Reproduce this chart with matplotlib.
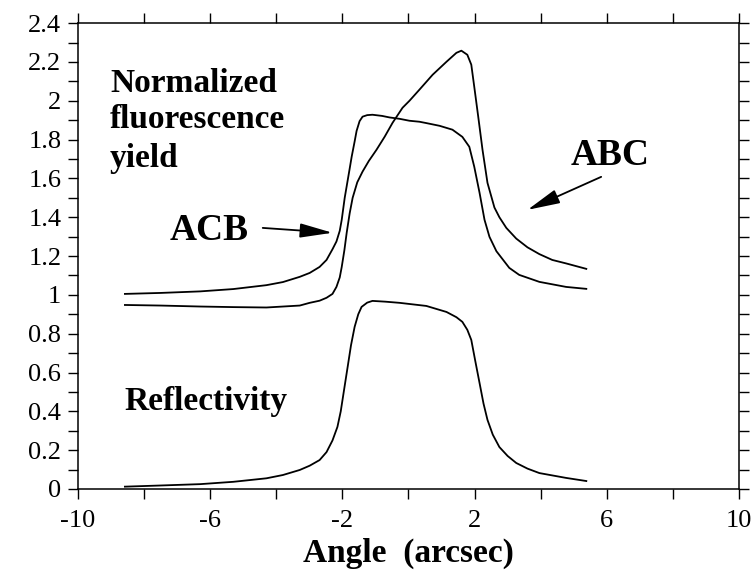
import matplotlib
matplotlib.use('Agg')
from matplotlib import pyplot as plt
from matplotlib.ticker import FixedLocator, MultipleLocator

plt.rcParams['font.family'] = ['Liberation Serif', 'DejaVu Serif']
plt.rcParams['axes.unicode_minus'] = False

# values (angle in arcsec)
refl_x = [-8.58, -7.5, -6.3, -5.3, -4.3, -3.8, -3.29, -2.99, -2.69, -2.48, -2.30,
          -2.15, -2.05, -1.95, -1.84, -1.74, -1.63, -1.52, -1.42, -1.25, -1.09,
          -0.7, -0.27, 0.54, 1.15, 1.45, 1.63, 1.78, 1.90, 2.02, 2.15, 2.27, 2.39,
          2.55, 2.75, 3.0, 3.26, 3.6, 3.96, 4.77, 5.38]
refl_y = [0.012, 0.018, 0.025, 0.037, 0.055, 0.072, 0.098, 0.12, 0.149, 0.19, 0.25,
          0.32, 0.40, 0.51, 0.63, 0.74, 0.835, 0.9, 0.938, 0.96, 0.969,
          0.965, 0.959, 0.943, 0.912, 0.885, 0.861, 0.82, 0.768, 0.66, 0.546, 0.44, 0.356,
          0.28, 0.216, 0.17, 0.134, 0.105, 0.082, 0.057, 0.041]

acb_x = [-8.58, -7.5, -6.3, -5.3, -4.3, -3.8, -3.29, -2.99, -2.69, -2.48, -2.30,
         -2.18, -2.08, -2.02, -1.93, -1.87, -1.78, -1.72, -1.63, -1.57, -1.48,
         -1.39, -1.25, -1.09, -0.8, -0.57, -0.27, 0.03, 0.33, 0.54, 0.94, 1.33,
         1.63, 1.84, 1.99, 2.15, 2.30, 2.45, 2.66, 3.05, 3.35, 3.96, 4.77, 5.38]
acb_y = [1.005, 1.01, 1.018, 1.03, 1.05, 1.066, 1.093, 1.113, 1.144, 1.18, 1.235,
         1.275, 1.33, 1.387, 1.5, 1.56, 1.65, 1.711, 1.79, 1.845, 1.895,
         1.918, 1.926, 1.928, 1.922, 1.914, 1.907, 1.897, 1.892, 1.885, 1.871, 1.851,
         1.814, 1.763, 1.66, 1.526, 1.387, 1.299, 1.225, 1.139, 1.103, 1.067, 1.041, 1.031]

abc_x = [-8.58, -7.5, -6.3, -5.3, -4.3, -3.29, -2.99, -2.69, -2.48, -2.30, -2.18,
         -2.08, -2.02, -1.94, -1.87, -1.78, -1.69, -1.55, -1.39, -1.2, -0.97,
         -0.72, -0.48, -0.18, 0.03, 0.33, 0.73, 1.15, 1.45, 1.60, 1.78, 1.90,
         1.99, 2.11, 2.24, 2.39, 2.60, 2.75, 2.96, 3.26, 3.6, 3.96, 4.35, 4.77, 5.38]
abc_y = [0.948, 0.945, 0.94, 0.937, 0.935, 0.945, 0.959, 0.97, 0.985, 1.005, 1.041,
         1.09, 1.144, 1.23, 1.32, 1.42, 1.5, 1.58, 1.635, 1.69, 1.747,
         1.815, 1.887, 1.964, 2.0, 2.057, 2.134, 2.201, 2.247, 2.258, 2.237, 2.186,
         2.072, 1.918, 1.747, 1.577, 1.45, 1.40, 1.345, 1.29, 1.245, 1.21, 1.18, 1.162, 1.134]

x_labels = [-10, -6, -2, 2, 6, 10]
x_minor = [-8, -4, 0, 4, 8]

fig = plt.figure(figsize=(7.55, 5.78), dpi=100)
ax = fig.add_axes([0.1033, 0.154, 0.8755, 0.806])

for xs, ys in [(refl_x, refl_y), (acb_x, acb_y), (abc_x, abc_y)]:
    ax.plot(xs, ys, color='black', lw=1.3)

ax.set_xlim(-10, 10)
ax.set_ylim(0, 2.4)
ax.xaxis.set_major_locator(FixedLocator(x_labels))
ax.xaxis.set_minor_locator(FixedLocator(x_minor))
ax.xaxis.set_major_formatter(plt.FuncFormatter(lambda v, p: '%d' % v))
ax.yaxis.set_major_locator(MultipleLocator(0.2))
ax.yaxis.set_minor_locator(MultipleLocator(0.1))
ax.yaxis.set_major_formatter(plt.FuncFormatter(lambda v, p: ('%.1f' % v).rstrip('0').rstrip('.') if abs(v) > 1e-9 else '0'))
ax.tick_params(which='both', direction='out', length=7, width=1,
               top=True, right=True, labelsize=19, pad=5)
ax.tick_params(axis='x', pad=8)
for s in ax.spines.values():
    s.set_linewidth(1.1)

ax.set_xlabel('Angle  (arcsec)', fontsize=24, fontweight='bold', labelpad=4)

ax.text(-9.03, 2.046, 'Normalized', fontsize=24, fontweight='bold', va='baseline')
ax.text(-9.03, 1.861, 'fluorescence', fontsize=24, fontweight='bold', va='baseline')
ax.text(-9.03, 1.66, 'yield', fontsize=24, fontweight='bold', va='baseline')
ax.text(-8.58, 0.407, 'Reflectivity', fontsize=24, fontweight='bold', va='baseline')

arrow = dict(arrowstyle='-|>,head_length=1.0,head_width=0.22', mutation_scale=20,
             color='black', lw=1.3, shrinkA=0, shrinkB=0)
ax.text(-7.22, 1.284, 'ACB', fontsize=27, fontweight='bold', va='baseline')
ax.annotate('', xy=(-2.30, 1.32), xytext=(-4.41, 1.345), arrowprops=arrow)
ax.text(4.92, 1.67, 'ABC', fontsize=27, fontweight='bold', va='baseline')
ax.annotate('', xy=(3.60, 1.438), xytext=(5.83, 1.608), arrowprops=arrow)

fig.savefig('out.png', dpi=100)
